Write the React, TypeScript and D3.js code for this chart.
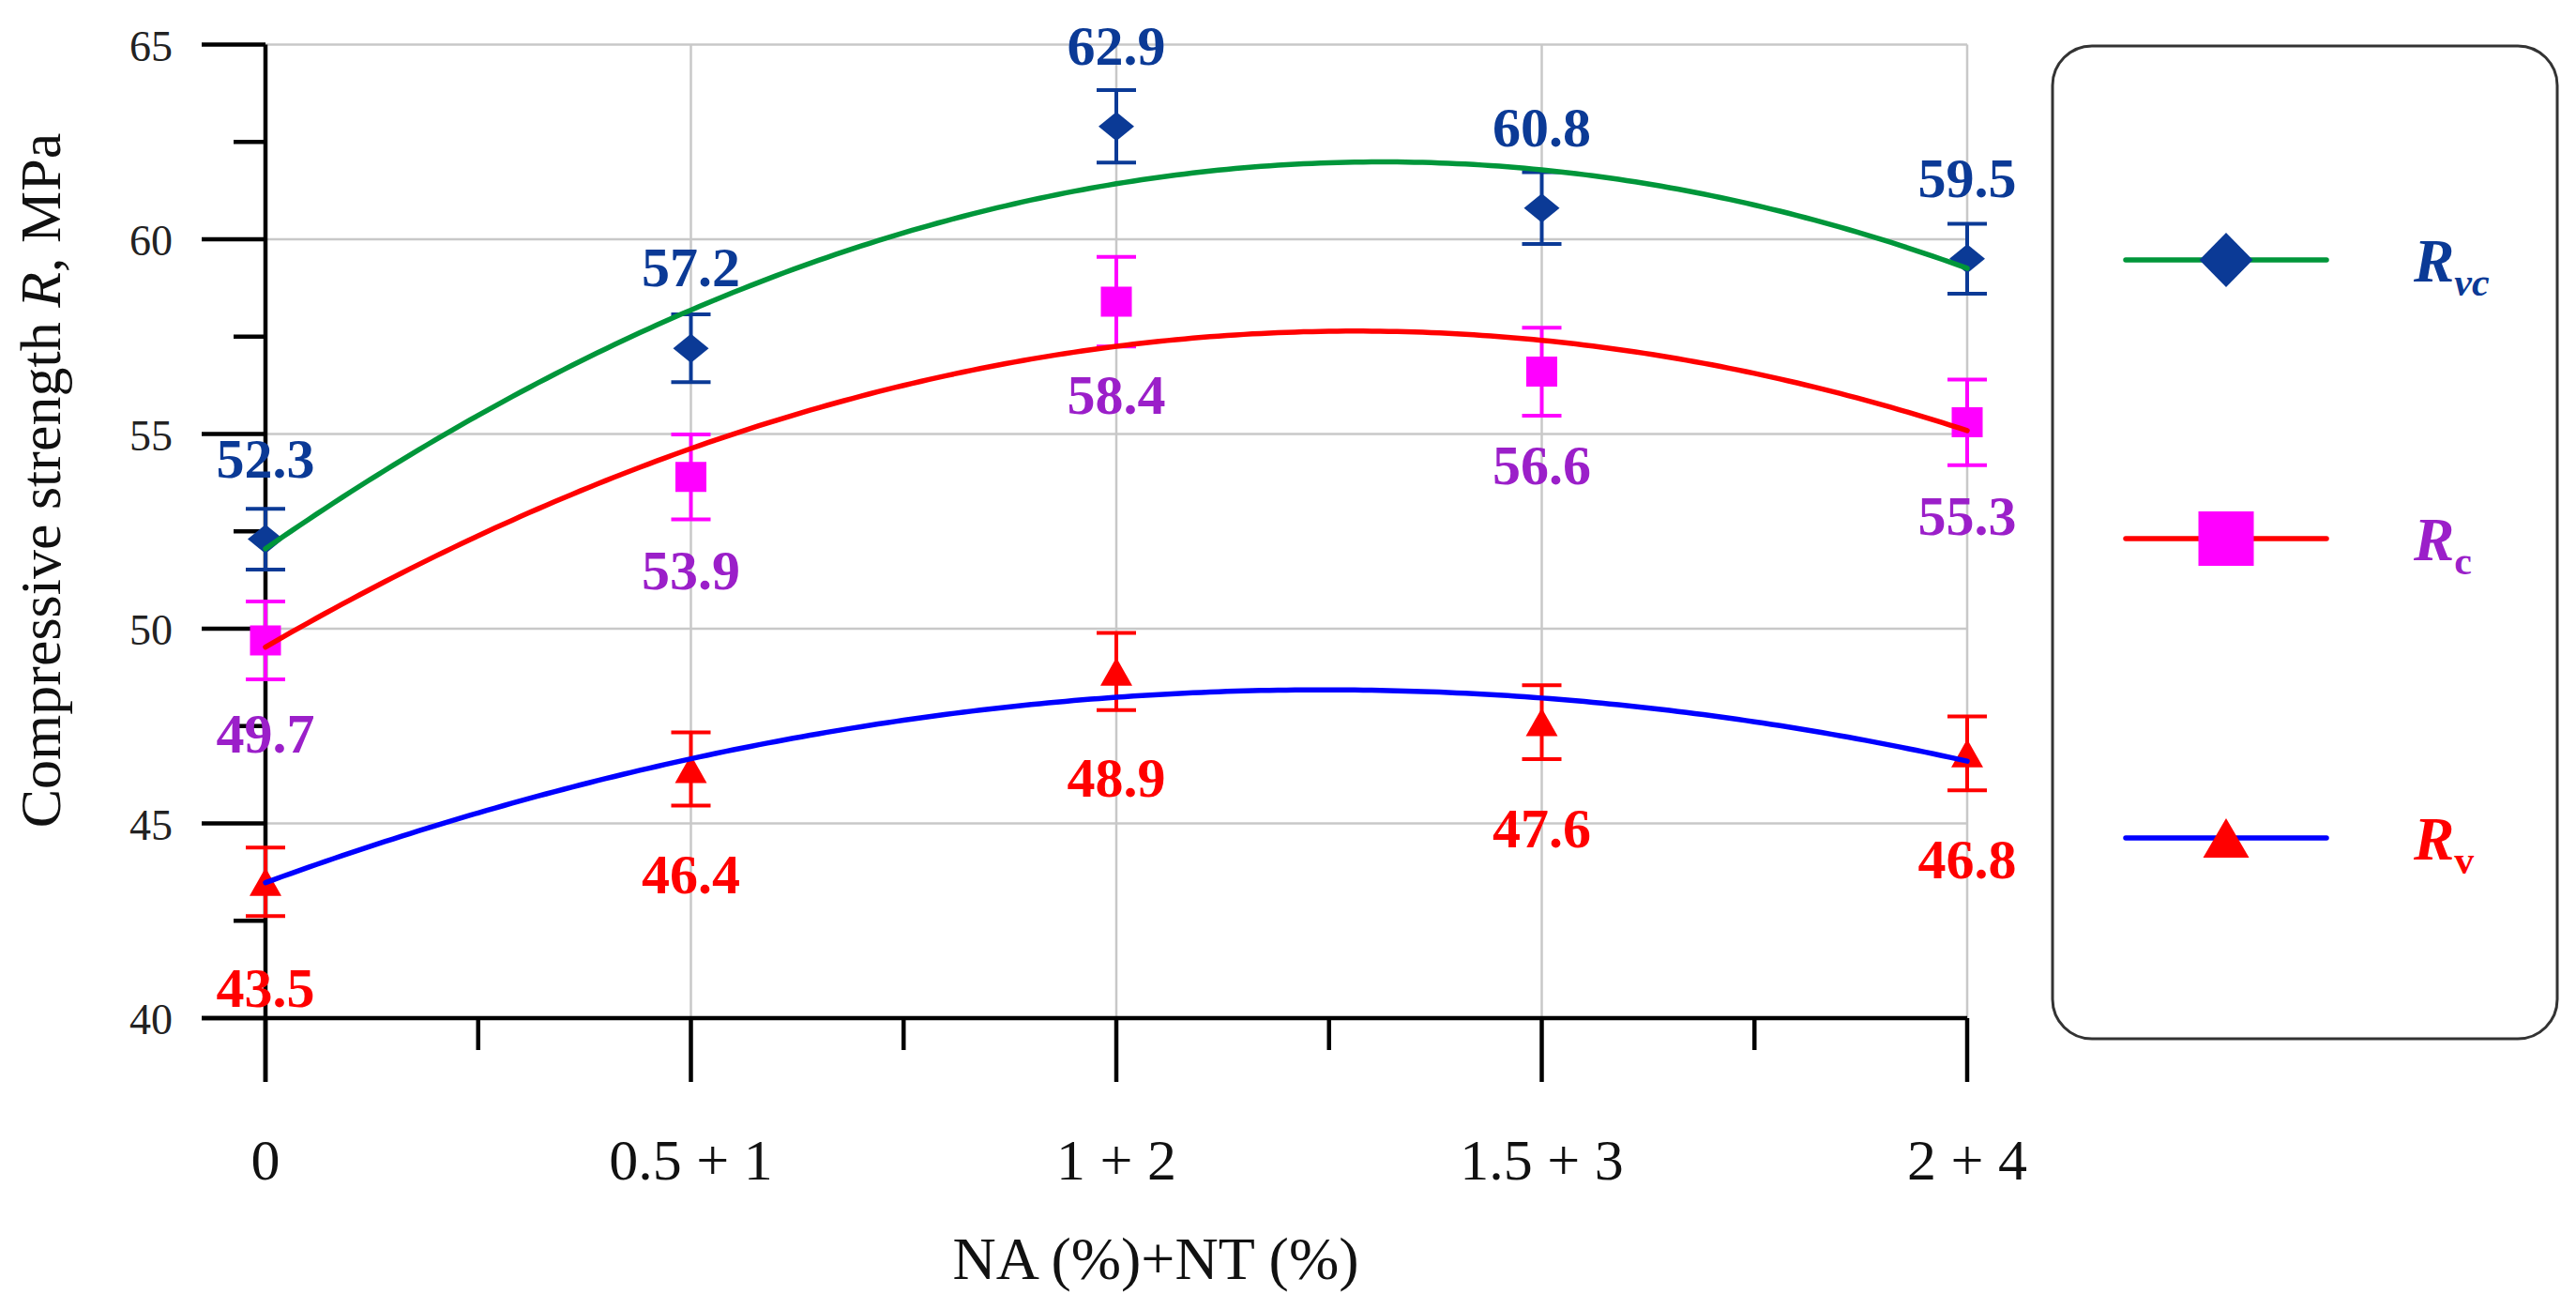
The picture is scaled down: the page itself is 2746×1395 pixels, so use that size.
import React, { useEffect } from "react";
import * as d3 from "d3";

const categories = ["0", "0.5 + 1", "1 + 2", "1.5 + 3", "2 + 4"];
const rvcValues = [52.3, 57.2, 62.9, 60.8, 59.5];
const rvcErrors = [0.78, 0.87, 0.93, 0.92, 0.9];
const rcValues = [49.7, 53.9, 58.4, 56.6, 55.3];
const rcErrors = [1.0, 1.09, 1.15, 1.13, 1.1];
const rvValues = [43.5, 46.4, 48.9, 47.6, 46.8];
const rvErrors = [0.88, 0.94, 0.99, 0.95, 0.95];
const yTicks = [40, 45, 50, 55, 60, 65];
const yMinorTicks = [42.5, 47.5, 52.5, 57.5, 62.5];
const xMinorTicks = [0.5, 1.5, 2.5, 3.5];

const W = 2746;
const H = 1395;
const FONT = "'Liberation Serif', 'Times New Roman', serif";

const C_BLUE_DARK = "#0b3a96";
const C_GREEN = "#00963a";
const C_MAGENTA = "#ff00ff";
const C_PURPLE = "#9b1fc9";
const C_RED = "#ff0000";
const C_BLUE = "#0000ff";

// quadratic least squares fit
function quadFit(ys: number[]) {
  const xs = ys.map((_, i) => i);
  const n = xs.length;
  let s1 = 0, s2 = 0, s3 = 0, s4 = 0, t0 = 0, t1 = 0, t2 = 0;
  xs.forEach((x, i) => {
    const y = ys[i];
    s1 += x; s2 += x * x; s3 += x ** 3; s4 += x ** 4;
    t0 += y; t1 += x * y; t2 += x * x * y;
  });
  const M = [
    [n, s1, s2],
    [s1, s2, s3],
    [s2, s3, s4],
  ];
  const det = (m: number[][]) =>
    m[0][0] * (m[1][1] * m[2][2] - m[1][2] * m[2][1]) -
    m[0][1] * (m[1][0] * m[2][2] - m[1][2] * m[2][0]) +
    m[0][2] * (m[1][0] * m[2][1] - m[1][1] * m[2][0]);
  const D = det(M);
  const rhs = [t0, t1, t2];
  const coef = [0, 1, 2].map((c) => {
    const Mc = M.map((row, r) => row.map((v, k) => (k === c ? rhs[r] : v)));
    return det(Mc) / D;
  });
  return (x: number) => coef[0] + coef[1] * x + coef[2] * x * x;
}

type Series = {
  values: number[];
  errors: number[];
  lineColor: string;
  markerColor: string;
  labelColor: string;
  marker: "diamond" | "square" | "triangle";
  labelOffset: number;
};

const series: Series[] = [
  { values: rvcValues, errors: rvcErrors, lineColor: C_GREEN, markerColor: C_BLUE_DARK, labelColor: C_BLUE_DARK, marker: "diamond", labelOffset: -66 },
  { values: rcValues, errors: rcErrors, lineColor: C_RED, markerColor: C_MAGENTA, labelColor: C_PURPLE, marker: "square", labelOffset: 120 },
  { values: rvValues, errors: rvErrors, lineColor: C_BLUE, markerColor: C_RED, labelColor: C_RED, marker: "triangle", labelOffset: 133 },
];

function markerPath(kind: string, cx: number, cy: number, w: number, h: number) {
  if (kind === "diamond") {
    return `M${cx},${cy - h / 2}L${cx + w / 2},${cy}L${cx},${cy + h / 2}L${cx - w / 2},${cy}Z`;
  }
  if (kind === "square") {
    return `M${cx - w / 2},${cy - h / 2}h${w}v${h}h${-w}Z`;
  }
  return `M${cx},${cy - h / 2}L${cx + w / 2},${cy + h / 2}L${cx - w / 2},${cy + h / 2}Z`;
}

const markerSize: Record<string, [number, number]> = {
  diamond: [38, 31],
  square: [33, 32],
  triangle: [34, 30],
};
const legendMarkerSize: Record<string, [number, number]> = {
  diamond: [57, 58],
  square: [59, 58],
  triangle: [49, 42],
};

export default function App() {
  useEffect(() => {
    document.body.style.margin = "0";
    document.body.style.background = "#ffffff";
  }, []);

  const x = d3.scaleLinear().domain([0, 4]).range([283, 2097]);
  const y = d3.scaleLinear().domain([40, 65]).range([1085, 47.5]);
  const x0 = x(0);
  const yBottom = y(40);
  const majorTickLen = 68;
  const minorTickLen = 34;
  const capHalf = 21;

  const sampleXs = d3.range(0, 4.0001, 0.02);

  // legend layout
  const lgX0 = 2188, lgX1 = 2726, lgY0 = 49, lgY1 = 1107;
  const legendItems = [
    { s: series[0], yy: 277, main: "R", sub: "vc", subItalic: true },
    { s: series[1], yy: 574, main: "R", sub: "c", subItalic: false },
    { s: series[2], yy: 893, main: "R", sub: "v", subItalic: false },
  ];

  return (
    <svg width={W} height={H} viewBox={`0 0 ${W} ${H}`} style={{ display: "block", background: "#fff" }}>
      {/* gridlines */}
      <g stroke="#c8c8c8" strokeWidth={2.5}>
        {yTicks.filter((t) => t > 40).map((t) => (
          <line key={"gy" + t} x1={x0} x2={x(4)} y1={y(t)} y2={y(t)} />
        ))}
        {categories.slice(1).map((_, i) => (
          <line key={"gx" + i} x1={x(i + 1)} x2={x(i + 1)} y1={y(65)} y2={yBottom} />
        ))}
      </g>

      {/* axes */}
      <g stroke="#000" strokeWidth={4.5} fill="none">
        <line x1={x0} x2={x0} y1={y(65)} y2={yBottom + majorTickLen} />
        <line x1={x0 - majorTickLen} x2={x(4)} y1={yBottom} y2={yBottom} />
        {yTicks.map((t) => (
          <line key={"yt" + t} x1={x0 - majorTickLen} x2={x0} y1={y(t)} y2={y(t)} />
        ))}
        {yMinorTicks.map((t) => (
          <line key={"ym" + t} x1={x0 - minorTickLen} x2={x0} y1={y(t)} y2={y(t)} />
        ))}
        {categories.map((_, i) => (
          <line key={"xt" + i} x1={x(i)} x2={x(i)} y1={yBottom} y2={yBottom + majorTickLen} />
        ))}
        {xMinorTicks.map((t) => (
          <line key={"xm" + t} x1={x(t)} x2={x(t)} y1={yBottom} y2={yBottom + minorTickLen} />
        ))}
      </g>

      {/* y tick labels */}
      <g fontFamily={FONT} fontSize={46} fill="#222" textAnchor="end">
        {yTicks.map((t) => (
          <text key={"yl" + t} x={184} y={y(t) + 17}>
            {t}
          </text>
        ))}
      </g>

      {/* x tick labels */}
      <g fontFamily={FONT} fontSize={62} fill="#111" textAnchor="middle">
        {categories.map((c, i) => (
          <text key={"xl" + i} x={x(i)} y={1257} style={{ whiteSpace: "pre" }}>
            {c}
          </text>
        ))}
      </g>

      {/* axis titles */}
      <text x={1232} y={1363} fontFamily={FONT} fontSize={64} fill="#111" textAnchor="middle">
        NA (%)+NT (%)
      </text>
      <text
        transform="translate(64,512) rotate(-90)"
        fontFamily={FONT}
        fontSize={62}
        fill="#111"
        textAnchor="middle"
      >
        Compressive strength <tspan fontStyle="italic">R</tspan>, MPa
      </text>

      {/* error bars and markers */}
      {series.map((s, si) => (
        <g key={"s" + si}>
          {s.values.map((v, i) => {
            const cx = x(i);
            const yt = y(v + s.errors[i]);
            const yb = y(v - s.errors[i]);
            const [mw, mh] = markerSize[s.marker];
            return (
              <g key={"p" + i}>
                <g stroke={s.markerColor} strokeWidth={4}>
                  <line x1={cx} x2={cx} y1={yt} y2={yb} />
                  <line x1={cx - capHalf} x2={cx + capHalf} y1={yt} y2={yt} />
                  <line x1={cx - capHalf} x2={cx + capHalf} y1={yb} y2={yb} />
                </g>
                <path d={markerPath(s.marker, cx, y(v), mw, mh)} fill={s.markerColor} />
              </g>
            );
          })}
        </g>
      ))}

      {/* trend lines (quadratic fits of the data) */}
      {series.map((s, si) => {
        const f = quadFit(s.values);
        const path = d3
          .line<number>()
          .x((d) => x(d))
          .y((d) => y(f(d)))(sampleXs);
        return (
          <path
            key={"t" + si}
            d={path || ""}
            fill="none"
            stroke={s.lineColor}
            strokeWidth={5.5}
            strokeLinecap="round"
          />
        );
      })}

      {/* value labels */}
      {series.map((s, si) => (
        <g key={"l" + si} fontFamily={FONT} fontWeight="bold" fontSize={60} fill={s.labelColor} textAnchor="middle">
          {s.values.map((v, i) => (
            <text key={"v" + i} x={x(i)} y={y(v) + s.labelOffset}>
              {v.toFixed(1)}
            </text>
          ))}
        </g>
      ))}

      {/* legend */}
      <rect
        x={lgX0}
        y={lgY0}
        width={lgX1 - lgX0}
        height={lgY1 - lgY0}
        rx={42}
        ry={42}
        fill="#fff"
        stroke="#333"
        strokeWidth={3}
      />
      {legendItems.map((it, k) => {
        const [mw, mh] = legendMarkerSize[it.s.marker];
        const cx = 2373;
        return (
          <g key={"lg" + k}>
            <line x1={2266} x2={2480} y1={it.yy} y2={it.yy} stroke={it.s.lineColor} strokeWidth={5.5} strokeLinecap="round" />
            <path d={markerPath(it.s.marker, cx, it.yy, mw, mh)} fill={it.s.markerColor} />
            <text
              x={2573}
              y={it.yy + 23}
              fontFamily={FONT}
              fontSize={65}
              fontWeight="bold"
              fill={it.s.labelColor}
            >
              <tspan fontStyle="italic">{it.main}</tspan>
              <tspan fontSize={42} dy={15} fontStyle={it.subItalic ? "italic" : "normal"}>
                {it.sub}
              </tspan>
            </text>
          </g>
        );
      })}
    </svg>
  );
}
